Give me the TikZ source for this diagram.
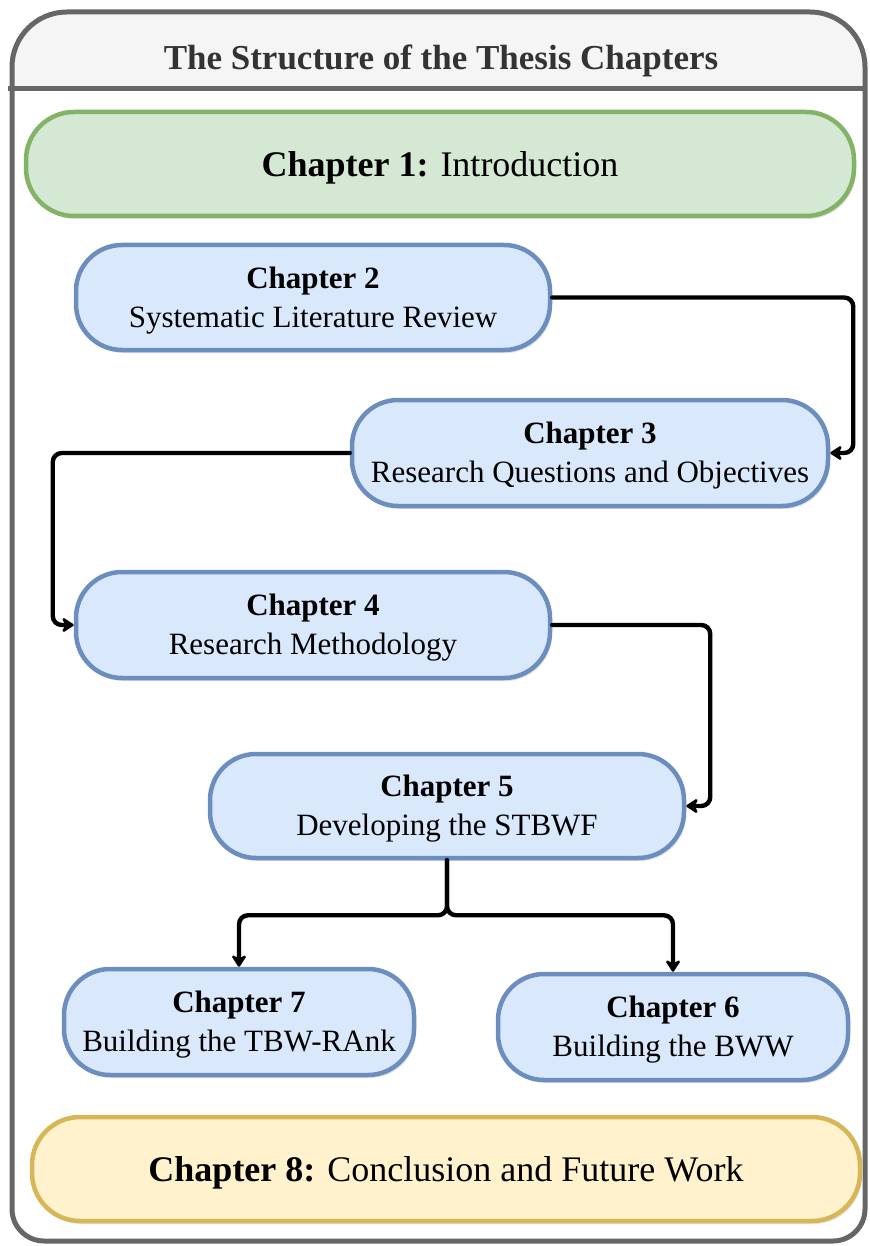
\documentclass[tikz,border=0pt]{standalone}
\usepackage{fontspec}
\setmainfont{Liberation Serif}
\usetikzlibrary{arrows.meta,shadows}

\definecolor{frameline}{HTML}{666666}
\definecolor{headfill}{HTML}{F5F5F5}
\definecolor{headtext}{HTML}{333333}
\definecolor{blueline}{HTML}{6C8EBF}
\definecolor{bluefill}{HTML}{DAE8FC}
\definecolor{greenline}{HTML}{82B366}
\definecolor{greenfill}{HTML}{D5E8D4}
\definecolor{yellowline}{HTML}{D6B656}
\definecolor{yellowfill}{HTML}{FFF2CC}

\tikzset{
  softshadow/.style={drop shadow={opacity=0.22, shadow xshift=2pt, shadow yshift=-3pt}},
  chapbox/.style={draw=blueline, fill=bluefill, line width=4.5pt,
    rounded corners=46pt, align=center, inner sep=0pt, softshadow,
    font=\fontsize{31}{39}\selectfont},
  widebox/.style={line width=4.5pt, rounded corners=48pt, align=center,
    inner sep=0pt, softshadow, minimum width=828pt, minimum height=104pt,
    font=\fontsize{36}{42}\selectfont},
  chaptext/.style={inner sep=0pt, align=center, font=\fontsize{31}{39}\selectfont},
  widetext/.style={inner sep=0pt, font=\fontsize{36}{42}\selectfont},
  conn/.style={line width=4.4pt, black, rounded corners=9pt, line cap=round,
    line join=round, -{Stealth[length=14pt,width=18pt,round]}},
  frame/.style={draw=frameline, line width=5pt}
}

\begin{document}
\begin{tikzpicture}[x=1pt,y=-1pt]
\useasboundingbox (0,0) rectangle (869,1246);

% outer container with header band
\fill[headfill] (12,89) [rounded corners=55pt] -- (12,12) -- (865,12) [sharp corners] -- (865,89) -- cycle;
\draw[frame] (8,89) -- (867,89);
\draw[frame] (12,600) [rounded corners=55pt] -- (12,12) -- (865,12)
  [rounded corners=32pt] -- (865,1241) -- (12,1241) [sharp corners] -- cycle;
\node[font=\fontsize{35}{40}\selectfont\bfseries, text=headtext] (title) at (441,61)
  {The Structure of the Thesis Chapters};

% chapter boxes
\node[widebox, draw=greenline, fill=greenfill] (c1) at (440,164) {};
\node[chapbox, minimum width=474pt, minimum height=105pt] (c2) at (313,297.5) {};
\node[chapbox, minimum width=476pt, minimum height=106pt] (c3) at (590,453) {};
\node[chapbox, minimum width=474pt, minimum height=106pt] (c4) at (313,625) {};
\node[chapbox, minimum width=474pt, minimum height=104pt] (c5) at (447,806) {};
\node[chapbox, minimum width=350pt, minimum height=106pt] (c7) at (239,1022) {};
\node[chapbox, minimum width=350pt, minimum height=106pt] (c6) at (673,1027) {};
\node[widebox, draw=yellowline, fill=yellowfill] (c8) at (446,1169) {};

% chapter titles (canvas y points up, so a negative yshift moves text down)
\node[widetext] (t1) at ([yshift=-4pt]c1.center) {\textbf{Chapter 1:} Introduction};
\node[chaptext] (t2) at ([yshift=-3pt]c2.center) {\textbf{Chapter 2}\\Systematic Literature Review};
\node[chaptext] (t3) at ([yshift=-3pt]c3.center) {\textbf{Chapter 3}\\Research Questions and Objectives};
\node[chaptext] (t4) at ([yshift=-3pt]c4.center) {\textbf{Chapter 4}\\Research Methodology};
\node[chaptext] (t5) at ([yshift=-3pt]c5.center) {\textbf{Chapter 5}\\Developing the STBWF};
\node[chaptext] (t7) at ([yshift=-3pt]c7.center) {\textbf{Chapter 7}\\Building the TBW-RAnk};
\node[chaptext] (t6) at ([yshift=-3pt]c6.center) {\textbf{Chapter 6}\\Building the BWW};
\node[widetext] (t8) at ([yshift=-4pt]c8.center) {\textbf{Chapter 8:} Conclusion and Future Work};

% flow between chapters
\draw[conn] (c2.east) -| ([xshift=23pt]c3.east) -- (c3.east);
\draw[conn] (c3.west) -| ([xshift=-21pt]c4.west) -- (c4.west);
\draw[conn] (c4.east) -| ([xshift=24pt]c5.east) -- (c5.east);
\draw[conn] (c5.south) -- ++(0,55) -| (c7.north);
\draw[conn] (c5.south) -- ++(0,55) -| (c6.north);
\end{tikzpicture}
\end{document}
